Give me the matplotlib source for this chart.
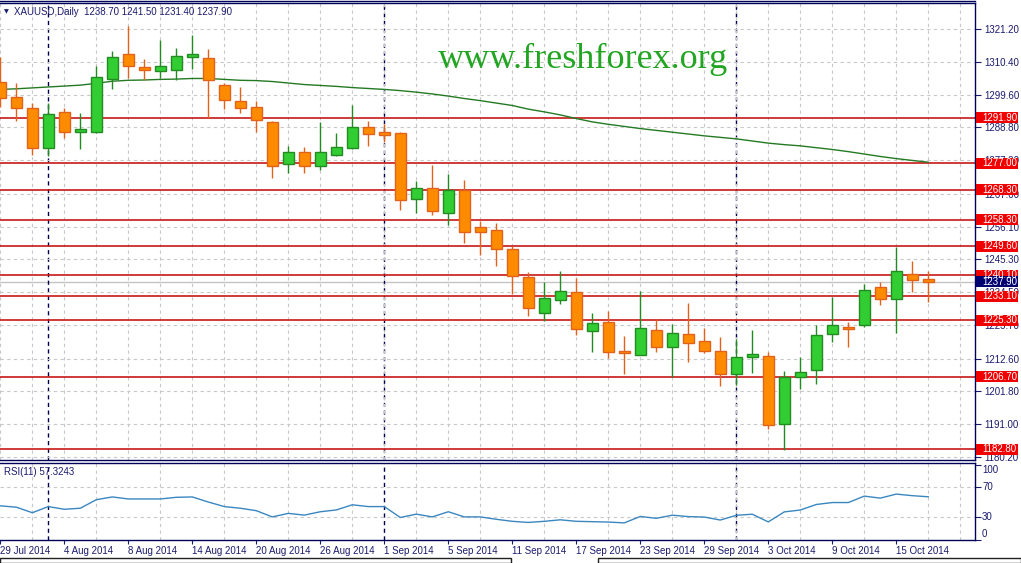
import matplotlib
matplotlib.use("Agg")
import numpy as np
import pandas as pd
import matplotlib.pyplot as plt
from matplotlib.patches import Rectangle
from matplotlib.lines import Line2D
from matplotlib.transforms import blended_transform_factory, offset_copy

# ----------------------------------------------------------------------
# data
# ----------------------------------------------------------------------
dates = pd.bdate_range("2014-07-29", "2014-10-17")

opens = [1303.6, 1298.8, 1295.1, 1282.1, 1293.8, 1287.4, 1287.4, 1304.8, 1313.0, 1308.6,
         1307.5, 1307.8, 1311.9, 1311.6, 1302.7, 1297.5, 1295.4, 1290.5, 1276.6, 1280.6,
         1276.0, 1279.7, 1281.9, 1288.8, 1287.2, 1286.8, 1265.1, 1268.7, 1260.5, 1268.1,
         1255.9, 1254.9, 1248.6, 1239.6, 1227.5, 1231.8, 1234.5, 1221.8, 1224.7, 1215.0,
         1213.9, 1221.9, 1216.3, 1220.6, 1218.3, 1215.0, 1207.4, 1213.0, 1213.4, 1191.0,
         1206.6, 1208.8, 1220.6, 1223.0, 1223.6, 1236.1, 1232.1, 1240.4, 1238.7]
highs = [1312.1, 1303.4, 1296.7, 1296.7, 1295.1, 1293.4, 1309.0, 1314.0, 1322.2, 1311.3,
         1317.6, 1314.8, 1319.3, 1314.6, 1303.3, 1302.0, 1297.5, 1291.0, 1282.7, 1282.4,
         1290.6, 1286.9, 1296.1, 1290.9, 1289.9, 1287.2, 1271.1, 1276.4, 1273.4, 1271.5,
         1257.8, 1257.2, 1249.7, 1241.1, 1237.8, 1241.5, 1239.1, 1227.5, 1228.4, 1220.1,
         1234.9, 1225.7, 1224.0, 1230.9, 1222.8, 1219.7, 1219.2, 1221.9, 1214.7, 1208.4,
         1213.0, 1223.6, 1232.8, 1224.8, 1237.2, 1237.8, 1249.3, 1244.8, 1241.5]
lows = [1295.6, 1291.0, 1279.7, 1279.5, 1285.4, 1281.7, 1287.0, 1301.4, 1305.1, 1304.3,
        1305.2, 1304.4, 1308.1, 1291.8, 1294.9, 1293.4, 1287.4, 1272.2, 1273.7, 1273.7,
        1274.8, 1279.5, 1281.7, 1282.8, 1284.0, 1261.6, 1260.7, 1260.0, 1256.7, 1250.8,
        1246.7, 1243.2, 1234.0, 1226.7, 1225.0, 1230.6, 1220.4, 1214.9, 1212.9, 1207.6,
        1213.7, 1214.9, 1206.5, 1211.6, 1214.4, 1203.7, 1204.0, 1208.0, 1189.3, 1182.5,
        1202.5, 1204.1, 1218.2, 1216.5, 1222.9, 1230.4, 1221.1, 1234.6, 1231.4]
closes = [1298.4, 1295.3, 1281.9, 1293.1, 1287.4, 1288.3, 1305.3, 1311.9, 1309.1, 1307.8,
          1309.0, 1312.3, 1313.0, 1304.3, 1297.7, 1295.1, 1291.1, 1276.0, 1280.6, 1276.0,
          1280.6, 1282.3, 1288.8, 1286.5, 1286.4, 1264.8, 1268.7, 1261.1, 1268.1, 1254.4,
          1254.4, 1248.8, 1239.9, 1229.2, 1232.7, 1234.8, 1222.5, 1224.2, 1214.9, 1214.4,
          1222.6, 1216.3, 1220.9, 1217.6, 1215.0, 1207.4, 1213.0, 1214.0, 1190.6, 1206.4,
          1208.1, 1220.3, 1223.6, 1222.5, 1235.1, 1232.1, 1241.4, 1238.4, 1237.9]

ma_values = [1301.3, 1301.5, 1301.8, 1302.1, 1302.4, 1302.7, 1303.3, 1304.0, 1304.3, 1304.4,
             1304.6, 1304.7, 1304.9, 1304.9, 1304.6, 1304.3, 1304.2, 1303.9, 1303.4, 1302.9,
             1302.6, 1302.3, 1301.9, 1301.6, 1301.3, 1300.9, 1300.4, 1299.8, 1299.1, 1298.3,
             1297.6, 1296.8, 1296.0, 1294.8, 1293.9, 1292.9, 1291.7, 1290.6, 1289.8, 1289.1,
             1288.4, 1287.8, 1287.2, 1286.6, 1286.0, 1285.5, 1285.0, 1284.3, 1283.6, 1283.1,
             1282.7, 1282.1, 1281.5, 1280.8, 1280.0, 1279.2, 1278.5, 1277.9, 1277.3]

rsi_values = [45.2, 43.4, 36.0, 44.2, 40.6, 42.0, 53.4, 57.1, 54.4, 54.4,
              54.4, 56.6, 57.1, 50.3, 44.2, 42.0, 38.7, 30.4, 35.1, 32.8,
              37.3, 39.7, 46.6, 44.2, 44.2, 29.6, 34.1, 30.4, 37.3, 30.4,
              30.4, 27.2, 24.5, 23.0, 24.5, 26.5, 24.5, 24.0, 23.5, 22.4,
              31.0, 28.5, 32.7, 30.8, 30.2, 26.2, 32.5, 34.0, 23.7, 37.1,
              39.6, 47.0, 49.6, 49.6, 58.2, 55.5, 60.9, 58.8, 57.3]

levels = [1291.90, 1277.00, 1268.30, 1258.30, 1249.60, 1240.10, 1233.10, 1225.30, 1206.70, 1182.80]

price_ticks = [1321.20, 1310.40, 1299.60, 1288.80, 1277.90, 1267.00, 1256.10,
               1245.30, 1234.50, 1223.70, 1212.60, 1201.80, 1191.00, 1180.20]
rsi_ticks = [0, 30, 70, 100]

# ----------------------------------------------------------------------
# style
# ----------------------------------------------------------------------
NAVY = "#1b1b6e"
GRID = "#c8c8c8"
BULL_FILL, BULL_EDGE = "#32cd32", "#228b22"
BEAR_FILL, BEAR_EDGE = "#ff8c00", "#e2621b"
LEVEL = "#c81818"
FONT = ["Liberation Sans", "DejaVu Sans"]
plt.rcParams["font.family"] = FONT

W, H = 1021, 563
fig = plt.figure(figsize=(W / 100, H / 100), dpi=100)
fig.patch.set_facecolor("white")

def px_box(x0, y0, x1, y1):
    return [x0 / W, 1 - y1 / H, (x1 - x0) / W, (y1 - y0) / H]

ax = fig.add_axes(px_box(0, 3, 975, 460))
ax_rsi = fig.add_axes(px_box(0, 463, 975, 540))

idx = np.arange(len(opens))
o = np.array(opens); c = np.array(closes)
hi = np.array(highs); lo = np.array(lows)
bull = c >= o

for a in (ax, ax_rsi):
    a.set_facecolor("white")
    a.set_xlim(-0.02, 60.92)
    a.spines["left"].set_visible(False)
    for s in ("top", "bottom", "right"):
        a.spines[s].set_color("#00005a")
        a.spines[s].set_linewidth(1)
    a.yaxis.tick_right()
    a.tick_params(axis="y", direction="out", length=4, width=0.8, color=NAVY,
                  labelcolor=NAVY, labelsize=7, pad=3)
    a.set_xticks(np.arange(0, 61, 2), minor=True)
    a.grid(which="minor", axis="x", color=GRID, lw=0.8, ls=(0, (3, 3)))
    a.tick_params(axis="x", which="minor", length=0)
    # month separators
    for i in idx[1:]:
        if dates[i].month != dates[i - 1].month:
            a.axvline(i, color="#00004a", lw=1, ls=(0, (3, 2.5)), zorder=1.5)

# ---- main price panel ----
ax.set_ylim(1179.19, 1329.77)
ax.set_yticks(price_ticks)
ax.set_yticklabels([f"{v:.2f}" for v in price_ticks])
ax.grid(axis="y", color=GRID, lw=0.8, ls=(0, (3, 3)))
ax.set_xticks([])

ax.plot(idx, ma_values, color="#237a23", lw=1, zorder=1.8)
ax.axhline(closes[-1], color="#c4c4c4", lw=1, zorder=1.2)
for lv in levels:
    ax.axhline(lv, color=LEVEL, lw=1.2, zorder=1.6)

ax.vlines(idx, lo, hi, colors=np.where(bull, BULL_EDGE, BEAR_EDGE), lw=1, zorder=2)
ax.bar(idx, np.maximum(np.abs(c - o), 0.3), bottom=np.minimum(o, c), width=0.66,
       color=np.where(bull, BULL_FILL, BEAR_FILL),
       edgecolor=np.where(bull, BULL_EDGE, BEAR_EDGE), lw=1, zorder=3)

# price labels on the right axis
tr = blended_transform_factory(ax.transAxes, ax.transData)
box_h = 11 / 3.035
def axis_tag(price, face):
    ax.add_patch(Rectangle((976 / 975, price - box_h / 2), 42 / 975, box_h,
                           transform=tr, facecolor=face, edgecolor="none",
                           clip_on=False, zorder=5))
    ax.text(982 / 975, price, f"{price:.2f}", transform=tr, color="white",
            fontsize=7, va="center", ha="left", zorder=6, clip_on=False)

for lv in levels:
    axis_tag(lv, "#f00000")
axis_tag(closes[-1], "#000070")

ax.text(14 / 975, 1 - 9 / 457, "XAUUSD,Daily  1238.70 1241.50 1231.40 1237.90",
        transform=ax.transAxes, fontsize=7, color=NAVY, va="center", ha="left")
ax.text(4 / 975, 1 - 9 / 457, "\u25bc", transform=ax.transAxes, fontsize=4.5,
        color=NAVY, va="center", ha="left", family="DejaVu Sans")

fig.text(583 / W, 1 - 68 / H, "www.freshforex.org", fontsize=26,
         family=["Liberation Serif", "DejaVu Serif"], color="#22a522",
         ha="center", va="baseline")

# ---- RSI panel ----
ax_rsi.set_ylim(-0.5, 102.5)
ax_rsi.plot(idx, rsi_values, color="#3a87c0", lw=1, zorder=3)
ax_rsi.set_yticks(rsi_ticks)
ax_rsi.set_yticklabels([])
# the terminal keeps the 0 / 100 labels inside the sub-window
rtr = blended_transform_factory(ax_rsi.transAxes, ax_rsi.transData)
label_shift = {0: 6, 30: 0, 70: 0, 100: -5}
for v in rsi_ticks:
    t = offset_copy(rtr, fig=fig, x=0, y=label_shift[v], units="dots")
    ax_rsi.text(982 / 975, v, str(v), transform=t, fontsize=7, color=NAVY,
                va="center", ha="left", clip_on=False)
for lv in (30, 70):
    ax_rsi.axhline(lv, color=GRID, lw=0.8, ls=(0, (3, 3)), zorder=1)
major = idx[::4]
ax_rsi.set_xticks(major)
ax_rsi.set_xticklabels([d.strftime("%-d %b %Y") for d in dates[major]], ha="left")
ax_rsi.tick_params(axis="x", which="major", direction="out", length=3, width=0.8,
                   color=NAVY, labelcolor=NAVY, labelsize=7, pad=1.5)
ax_rsi.text(4 / 975, 1 - 9 / 77, "RSI(11) 57.3243", transform=ax_rsi.transAxes,
            fontsize=7, color=NAVY, va="center", ha="left")

# window frame lines
fig.add_artist(Line2D([0, 975 / W], [1 - 0.5 / H, 1 - 0.5 / H], color="#00005a", lw=1))
for x0, x1 in ((0, 511), (598, 1021)):
    fig.add_artist(Rectangle((x0 / W, 0), (x1 - x0) / W, 5 / H, fill=False,
                             edgecolor="#202020", lw=1))

fig.savefig("out.png", dpi=100, facecolor="white")
